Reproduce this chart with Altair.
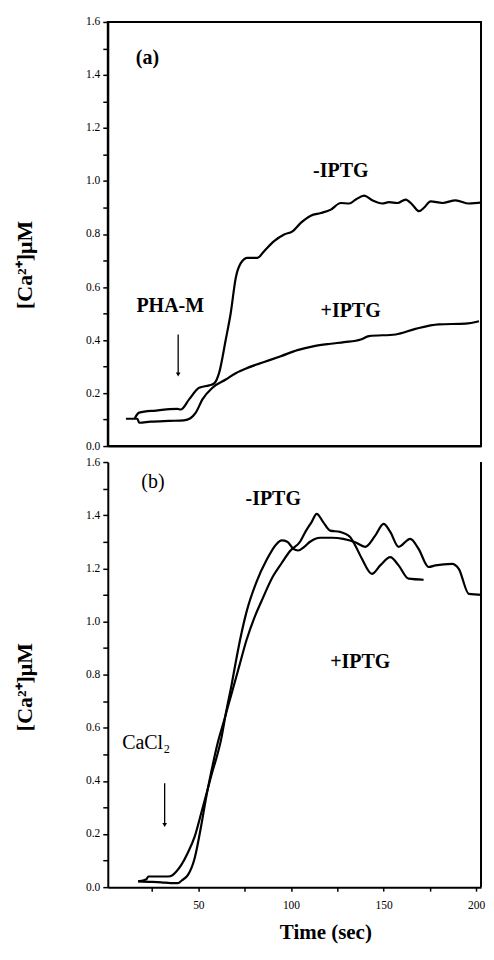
import altair as alt
import pandas as pd

FONT = "Liberation Serif"

# ---------------- Panel (a): PHA-M stimulation ----------------
a_minus_t = [11.5, 13.8, 22.8, 34.5, 36.3, 40.8, 46.2, 51.6, 54.3, 57.0, 60.6, 63.3, 66.0, 68.7,
             72.3, 77.7, 81.3, 86.7, 92.1, 96.6, 101.1, 106.5, 111.9, 117.3, 122.7, 127.2,
             130.8, 135.3, 139.7, 145.1, 148.7, 153.3, 157.7, 161.3, 164.9, 167.6, 171.2,
             177.5, 184.7, 191.9, 200.0]
a_minus_v = [0.105, 0.126, 0.134, 0.140, 0.138, 0.176, 0.220, 0.229, 0.236, 0.276, 0.402, 0.503,
             0.635, 0.690, 0.710, 0.710, 0.735, 0.773, 0.798, 0.810, 0.842, 0.869, 0.879, 0.892,
             0.917, 0.915, 0.930, 0.945, 0.927, 0.915, 0.920, 0.917, 0.930, 0.911, 0.886,
             0.899, 0.923, 0.917, 0.927, 0.915, 0.920]
a_plus_t = [6.7, 12.9, 13.8, 20.0, 30.0, 38.0, 41.5, 44.4, 48.0, 53.4, 60.6, 66.0, 72.3, 81.3,
            90.3, 99.3, 108.3, 117.3, 124.5, 133.5, 137.9, 152.3, 163.0, 175.6, 190.0, 197.3]
a_plus_v = [0.103, 0.103, 0.088, 0.092, 0.095, 0.097, 0.105, 0.126, 0.176, 0.220, 0.251, 0.275,
            0.295, 0.317, 0.339, 0.362, 0.377, 0.386, 0.392, 0.402, 0.415, 0.421, 0.442, 0.459,
            0.462, 0.471]

# ---------------- Panel (b): CaCl2 addition ----------------
b_minus_t = [17.5, 22.0, 23.0, 28.0, 33.6, 36.0, 38.0, 40.8, 44.0, 48.0, 51.6, 57.0, 62.4, 65.0,
             67.9, 70.0, 72.5, 76.0, 81.4, 86.8, 92.0, 95.0, 98.0, 101.3, 103.8, 107.0, 110.3,
             115.7, 122.0, 128.2, 134.7, 140.1, 145.5, 150.0, 153.6, 158.1, 164.4, 168.9,
             174.3, 178.0, 187.0, 190.6, 196.0, 204.1]
b_minus_v = [0.022, 0.030, 0.040, 0.040, 0.040, 0.045, 0.058, 0.084, 0.125, 0.190, 0.280, 0.420,
             0.560, 0.660, 0.760, 0.840, 0.930, 1.036, 1.149, 1.231, 1.290, 1.305, 1.300, 1.273,
             1.267, 1.280, 1.300, 1.315, 1.315, 1.311, 1.298, 1.281, 1.323, 1.367, 1.337, 1.281,
             1.311, 1.273, 1.205, 1.211, 1.217, 1.198, 1.104, 1.100]
b_plus_t = [17.5, 25.0, 30.0, 35.0, 39.0, 41.0, 44.4, 48.0, 51.6, 54.0, 57.0, 60.6, 64.0, 68.0,
            72.0, 76.0, 80.0, 84.0, 90.3, 95.0, 99.5, 104.9, 108.0, 111.2, 113.9, 117.3, 121.1,
            126.5, 131.9, 134.7, 138.3, 143.7, 148.2, 153.6, 158.1, 163.5, 171.6]
b_plus_v = [0.022, 0.020, 0.018, 0.015, 0.015, 0.025, 0.046, 0.109, 0.234, 0.330, 0.435, 0.547,
            0.630, 0.730, 0.830, 0.930, 1.010, 1.075, 1.170, 1.220, 1.265, 1.300, 1.340, 1.375,
            1.405, 1.375, 1.342, 1.337, 1.318, 1.286, 1.236, 1.179, 1.211, 1.242, 1.211, 1.161,
            1.157]

# ---------------- annotations ----------------
a_text_label = ["(a)", "-IPTG", "+IPTG", "PHA-M"]
a_text_t = [18.3, 122.7, 128.0, 30.6]
a_text_v = [1.463, 1.036, 0.509, 0.530]
a_arrow = {"t": [34.9], "v1": [0.421], "v2": [0.27]}

b_bold_label = ["-IPTG", "+IPTG"]
b_bold_t = [90.4, 137.4]
b_bold_v = [1.462, 0.848]
b_reg_label = ["(b)", "CaCl\u2082"]
b_reg_t = [25.5, 21.8]
b_reg_v = [1.525, 0.541]
b_arrow = {"t": [31.8], "v1": [0.391], "v2": [0.234]}

y_ticks = [0.0, 0.1, 0.2, 0.3, 0.4, 0.5, 0.6, 0.7, 0.8, 0.9, 1.0, 1.1, 1.2, 1.3, 1.4, 1.5, 1.6]
x_ticks_b = [25, 50, 75, 100, 125, 150, 175, 200]

Y_TITLE = "[Ca\u00b2\u207a]\u03bcM"
W = 374
H_A = 425
H_B = 426


def curves_df(minus_t, minus_v, plus_t, plus_v):
    rows = [{"t": t, "v": v, "series": "-IPTG"} for t, v in zip(minus_t, minus_v)]
    rows += [{"t": t, "v": v, "series": "+IPTG"} for t, v in zip(plus_t, plus_v)]
    return pd.DataFrame(rows)


def left_axis(title_y):
    return alt.Axis(values=y_ticks,
                    labelExpr="round(datum.value*10)%2==0 ? format(datum.value,'.1f') : ''",
                    labelOverlap=False, labelFont=FONT, labelFontSize=11.5, labelColor="black",
                    labelPadding=3, tickSize=5, tickWidth=1.5, tickColor="black",
                    domainWidth=2, domainColor="black", grid=False,
                    title=Y_TITLE, titleFont=FONT, titleFontSize=22, titleFontWeight="bold",
                    titleColor="black", titleAngle=270, titleX=-83, titleY=title_y,
                    titleAlign="center", titleBaseline="middle")


def build_panel(df, xdom, height, xaxis_main, title_y, texts_bold, texts_reg, arrow, view):
    def xs():
        return alt.Scale(domain=xdom, nice=False, zero=False)

    def ys():
        return alt.Scale(domain=[0, 1.6], nice=False)

    adf = pd.DataFrame(arrow)
    lines = alt.Chart(df).mark_line(color="black", strokeWidth=2.2, interpolate="monotone",
                                    clip=True).encode(
        x=alt.X("t:Q", scale=xs(), axis=xaxis_main),
        y=alt.Y("v:Q", scale=ys(), axis=left_axis(title_y)),
        detail="series:N",
    )
    tb = alt.Chart(pd.DataFrame(texts_bold)).mark_text(
        font=FONT, fontSize=20, fontWeight="bold", color="black", align="center",
        baseline="middle").encode(
        x=alt.X("t:Q", scale=xs(), axis=None),
        y=alt.Y("v:Q", scale=ys(), axis=None),
        text="label:N",
    )
    layers = [lines, tb]
    if texts_reg is not None:
        tr = alt.Chart(pd.DataFrame(texts_reg)).mark_text(
            font=FONT, fontSize=20, color="black", align="center", baseline="middle").encode(
            x=alt.X("t:Q", scale=xs(), axis=None),
            y=alt.Y("v:Q", scale=ys(), axis=None),
            text="label:N",
        )
        layers.append(tr)
    rule = alt.Chart(adf).mark_rule(color="black", strokeWidth=1.3).encode(
        x=alt.X("t:Q", scale=xs(), axis=None),
        y=alt.Y("v1:Q", scale=ys(), axis=None),
        y2="v2:Q",
    )
    head = alt.Chart(adf).mark_point(shape="triangle-down", filled=True, color="black",
                                     size=22, opacity=1).encode(
        x=alt.X("t:Q", scale=xs(), axis=None),
        y=alt.Y("v2:Q", scale=ys(), axis=None),
    )
    layers += [rule, head]
    return alt.layer(*layers).resolve_scale(x="independent", y="independent").properties(
        width=W, height=height, view=view)


df_a = curves_df(a_minus_t, a_minus_v, a_plus_t, a_plus_v)
df_b = curves_df(b_minus_t, b_minus_v, b_plus_t, b_plus_v)

# panel (a) is fully boxed; panel (b) has only its right edge drawn (top edge skipped by the dash)
view_a = alt.ViewBackground(stroke="black", strokeWidth=2, fill="transparent")
view_b = alt.ViewBackground(stroke="black", strokeWidth=2, fill="transparent",
                            strokeDash=[0, W, H_B, W + H_B + 10])

panel_a = build_panel(
    df_a, [-3.1, 198.4], H_A,
    alt.Axis(orient="bottom", labels=False, ticks=False, title=None, grid=False,
             domainWidth=2, domainColor="black"),
    243,
    {"t": a_text_t, "v": a_text_v, "label": a_text_label},
    None, a_arrow, view_a)

panel_b = build_panel(
    df_b, [1.1, 202.6], H_B,
    alt.Axis(orient="bottom", values=x_ticks_b,
             labelExpr="datum.value % 50 == 0 ? format(datum.value,'d') : ''",
             labelOverlap=False, labelFlush=False, labelFont=FONT, labelFontSize=11.5,
             labelColor="black", labelPadding=8, tickSize=4, tickWidth=1.5,
             tickColor="black", domainWidth=2, domainColor="black", grid=False,
             title="Time (sec)", titleFont=FONT, titleFontSize=21, titleFontWeight="bold",
             titleColor="black", titleX=218, titleY=45, titleAlign="center",
             titleBaseline="middle"),
    225,
    {"t": b_bold_t, "v": b_bold_v, "label": b_bold_label},
    {"t": b_reg_t, "v": b_reg_v, "label": b_reg_label}, b_arrow, view_b)

chart = alt.vconcat(panel_a, panel_b, spacing=16, bounds="flush").properties(
    padding={"left": 5, "top": 6, "right": 0, "bottom": 0}
).configure(background="white")

chart.save("out.html", embed_options={"renderer": "svg", "actions": False})
